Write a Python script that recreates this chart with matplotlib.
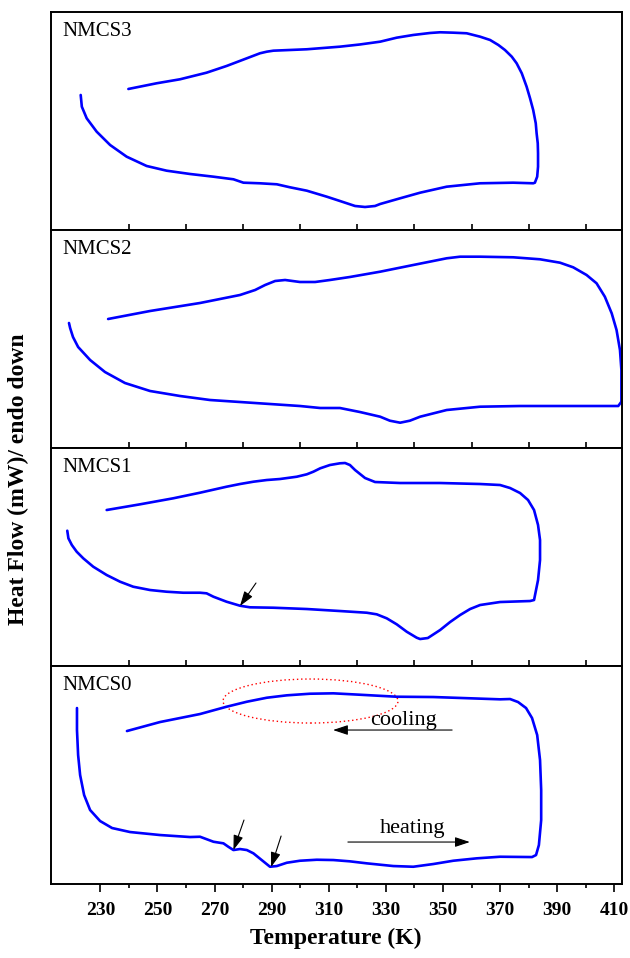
import matplotlib
matplotlib.use("Agg")
from matplotlib import pyplot as plt
from matplotlib.patches import Ellipse
from matplotlib.ticker import FixedLocator

plt.rcParams['font.family'] = ['Liberation Serif', 'DejaVu Serif']

# temperature (K) and heat flow (arb. units): heating branch, turn at top T, cooling branch
t_s3 = [223.1, 223.5, 225.2, 228.7, 233.4, 239.2, 246.2, 253.2, 261.4, 269.6, 276.6, 280.1,
        285.9, 291.8, 296.4, 302.3, 309.3, 313.9, 319.2, 322.7, 326.2, 328.0, 335.0, 342.0,
        351.3, 363.0, 374.6, 381.6, 382.2, 383.0, 383.3, 383.3, 383.2, 382.8, 382.5, 381.6,
        380.5, 379.3, 377.6, 375.8, 374.1, 371.7, 369.4, 366.5, 363.0, 358.3, 353.6, 349.0,
        345.5, 339.6, 333.8, 328.0, 320.9, 313.9, 302.3, 290.6, 288.3, 285.9, 281.3, 274.2,
        267.2, 257.9, 249.7, 239.8]
hf_s3 = [135, 123.3, 111.7, 98.3, 85, 73.3, 64, 59.3, 56, 53.3, 50.7, 47.3,
         46.7, 45.7, 42.7, 39.3, 33.3, 29, 24, 23, 24, 26, 31.7, 37.3,
         43.3, 46.7, 47.3, 46.7, 47.3, 53.3, 63.3, 76.7, 86.7, 96.7, 106.7, 120,
         131.7, 143.3, 156.7, 166.7, 173.3, 180, 185, 190, 193.3, 196.7, 197.3, 197.7,
         197, 195, 192.3, 188.3, 185.5, 183.3, 180.7, 179.3, 178.3, 176.7, 171.7, 164,
         157.3, 150.7, 146.7, 141]

t_s2 = [219.0, 219.4, 220.4, 222.2, 226.4, 231.6, 238.6, 247.4, 257.9, 268.4, 278.9, 289.4,
        299.9, 307.0, 313.9, 320.9, 328.0, 331.4, 335.0, 338.4, 342.0, 351.3, 363.0, 376.9,
        391.0, 409.7, 411.4, 412.5, 412.5, 412.5, 412.0, 410.8, 409.1, 406.7, 403.8, 400.3,
        395.6, 391.0, 384.0, 374.6, 363.0, 356.0, 351.3, 339.6, 328.0, 317.4, 310.4, 305.2,
        299.9, 294.7, 291.2, 287.7, 284.2, 278.9, 264.9, 247.4, 232.7]
hf_s2 = [125, 120, 111, 101, 88, 76, 65, 57, 52, 48, 46, 44,
         42, 40, 40, 36, 31.3, 27.3, 25.3, 27.3, 31.3, 38, 41.3, 42,
         42, 42, 42, 46.3, 58, 78, 98, 118, 134.7, 151.3, 164.7, 173,
         180.7, 185.3, 188.7, 190.7, 191.3, 191.3, 189.7, 183, 176.3, 171, 168, 166,
         166, 168, 167, 163, 158, 153, 145, 137, 129]

t_s1 = [218.4, 218.8, 220.0, 221.7, 224.0, 227.5, 232.2, 236.9, 241.5, 247.4, 253.2, 259.0,
        264.9, 267.2, 269.6, 274.2, 278.9, 282.4, 290.6, 302.3, 313.9, 323.3, 326.8, 330.3,
        333.8, 337.3, 340.8, 342.0, 344.7, 349.0, 352.5, 356.0, 359.5, 363.0, 370.0, 380.5,
        381.9, 383.3, 384.0, 384.0, 383.3, 381.9, 379.8, 377.0, 373.5, 370.0, 363.0, 349.0,
        335.0, 326.2, 322.7, 319.2, 317.4, 315.7, 313.9, 310.4, 307.0, 304.6, 302.3, 298.8,
        292.9, 288.3, 283.6, 278.9, 274.2, 264.9, 255.5, 243.9, 232.2]
hf_s1 = [135.3, 127.7, 121, 114.3, 107.7, 99.3, 91, 84.3, 79.3, 76, 74.3, 73.3,
         73.3, 72.7, 69.3, 64.3, 60.3, 58.7, 58.3, 57, 55, 53.3, 51.7, 47.7,
         41.7, 34.3, 28.3, 27, 28, 36, 44, 51, 57, 61, 64, 65,
         66, 86, 106, 126, 141, 156, 166, 173, 178, 181, 182, 183,
         183, 184, 188, 196, 201, 203, 202.7, 201, 197.7, 194.3, 191.7, 189.3,
         187, 186, 184.3, 182, 179.3, 173.3, 167.7, 161.7, 156]

t_s0 = [221.8, 221.8, 222.2, 222.9, 224.3, 226.4, 229.9, 234.1, 240.4, 250.9, 261.4, 264.9,
        269.6, 273.1, 274.8, 276.6, 278.9, 281.3, 283.6, 286.5, 289.4, 291.8, 295.3, 299.9,
        305.8, 311.6, 317.4, 323.3, 332.6, 339.6, 346.6, 353.6, 361.8, 370.0, 380.5, 381.2,
        382.6, 383.6, 384.4, 384.4, 384.0, 383.0, 381.2, 379.1, 376.3, 373.5, 370.0, 346.6,
        333.8, 320.9, 311.6, 303.4, 295.3, 288.3, 281.3, 274.2, 264.9, 257.9, 250.9, 239.3]
hf_s0 = [176, 154, 129, 109, 89, 74, 63, 56, 52, 49, 47, 47.3,
         42.3, 40.7, 37.3, 34, 35, 34, 30.7, 24, 17.3, 18, 21.3, 23.3,
         24.3, 24, 22.7, 20.7, 18, 17.3, 20, 23.3, 25.7, 27.3, 27, 27,
         29, 39, 64, 94, 124, 149, 166, 176, 182, 185, 184.7, 187,
         187.3, 189.3, 190.7, 190.3, 188.7, 186.3, 182.3, 177.3, 170, 166, 162, 153]

names = ['NMCS3', 'NMCS2', 'NMCS1', 'NMCS0']
temps = [t_s3, t_s2, t_s1, t_s0]
flows = [hf_s3, hf_s2, hf_s1, hf_s0]

fig = plt.figure(figsize=(6.3, 9.58), dpi=100)
axes = fig.subplots(4, 1, sharex=True)
plt.subplots_adjust(left=0.0805, right=0.9868, bottom=0.0772, top=0.9875, hspace=0)

for ax, name, t, hf in zip(axes, names, temps, flows):
    ax.plot(t, hf, color='#0000ff', lw=1.9, solid_capstyle='round', solid_joinstyle='round')
    ax.set_ylim(0, 218)
    ax.set_xlim(212.6, 412.6)
    ax.set_yticks([])
    for s in ax.spines.values():
        s.set_linewidth(1.4)
    ax.text(0.02, 0.955, name, transform=ax.transAxes, fontsize=15, va='top', ha='left')

# upper panels: small inward ticks only
for ax in axes[:3]:
    ax.xaxis.set_minor_locator(FixedLocator(range(240, 401, 20)))
    ax.tick_params(axis='x', which='major', length=0, labelbottom=False)
    ax.tick_params(axis='x', which='minor', direction='in', length=4, width=1.2)

ax = axes[3]
ax.set_xticks(range(230, 411, 20))
ax.xaxis.set_minor_locator(FixedLocator(range(240, 401, 20)))
ax.tick_params(axis='x', which='major', direction='out', length=6, width=1.2, pad=7, labelsize=14)
ax.tick_params(axis='x', which='minor', direction='out', length=3, width=1.2)
for lab in ax.get_xticklabels():
    lab.set_fontweight('bold')
ax.set_xlabel('Temperature (K)', fontsize=17, fontweight='bold', labelpad=6)

fig.text(0.03, 0.5, 'Heat Flow (mW)/ endo down', rotation=90, fontsize=17, fontweight='bold',
         ha='center', va='center')

# annotations
arrow_kw = dict(arrowstyle='-|>,head_length=0.45,head_width=0.15', color='k', lw=0.8,
                mutation_scale=20, shrinkA=0, shrinkB=0)
axes[2].annotate('', xy=(278.9, 60), xytext=(284.5, 83), arrowprops=arrow_kw)
axes[3].annotate('', xy=(276.6, 34), xytext=(280.3, 64), arrowprops=arrow_kw)
axes[3].annotate('', xy=(289.8, 17), xytext=(293.3, 48), arrowprops=arrow_kw)
axes[3].annotate('', xy=(311.5, 154), xytext=(353.2, 154), arrowprops=arrow_kw)
axes[3].annotate('', xy=(359.4, 42), xytext=(316.7, 42), arrowprops=arrow_kw)
axes[3].text(324.5, 159, 'cooling', fontsize=16, va='baseline', ha='left')
axes[3].text(328.0, 51, 'heating', fontsize=16, va='baseline', ha='left')
axes[3].add_patch(Ellipse((303.6, 183), 61.3, 44, fill=False, edgecolor='red',
                          linestyle=(0, (1, 2)), lw=1.0))

plt.savefig('out.png', dpi=100)
